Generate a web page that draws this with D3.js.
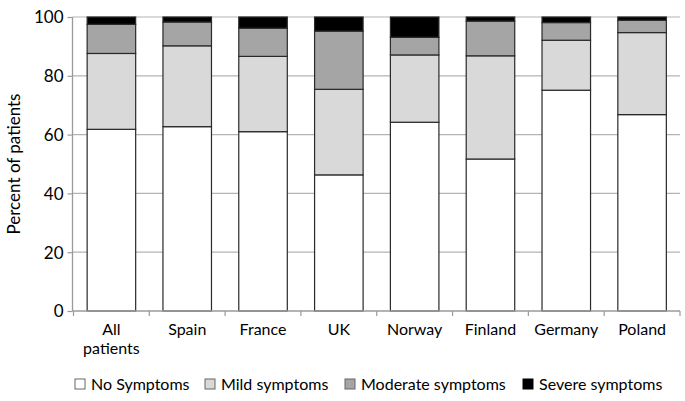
<!DOCTYPE html>
<html><head><meta charset="utf-8">
<script src="https://cdn.jsdelivr.net/npm/d3@7"></script>
<style>body{margin:0;background:#fff}svg{display:block}text{font-family:Lato,"Open Sans",sans-serif;fill:#000}</style>
</head><body><svg id="c" width="685" height="401"></svg>
<script>
const categories = ["All patients","Spain","France","UK","Norway","Finland","Germany","Poland"];
const seriesNames = ["No Symptoms","Mild symptoms","Moderate symptoms","Severe symptoms"];
const noSymptoms = [61.8, 62.7, 61.0, 46.3, 64.2, 51.7, 75.1, 66.8];
const mild       = [25.8, 27.5, 25.6, 29.1, 22.9, 35.1, 17.0, 27.9];
const moderate   = [9.9, 8.1, 9.6, 19.8, 6.0, 11.8, 6.0, 4.2];
const severe     = [2.5, 1.7, 3.8, 4.8, 6.9, 1.4, 1.9, 1.1];
const yTicks = [0,20,40,60,80,100];
const colors = ["#ffffff","#d9d9d9","#a5a5a5","#000000"];

const X0 = 72.5, X1 = 680;
const svg = d3.select("#c");
const x = d3.scaleBand().domain(categories).range([X0+1,X1]).paddingInner(0.36).paddingOuter(0.18);
const y = d3.scaleLinear().domain([0,100]).range([311,17]);

// gridlines
svg.append("g").selectAll("line").data(yTicks.filter(d=>d>0)).join("line")
  .attr("x1",X0).attr("x2",X1).attr("y1",d=>y(d)).attr("y2",d=>y(d))
  .attr("stroke","#b3b3b3").attr("stroke-width",1.2);

const table = categories.map((c,i)=>({cat:c, v:[noSymptoms[i],mild[i],moderate[i],severe[i]]}));
const keys = [0,1,2,3];
const stack = d3.stack().keys(keys).value((d,k)=>d.v[k]);
const layers = stack(table);

svg.append("g").selectAll("g").data(layers).join("g")
  .attr("fill",(d,i)=>colors[i])
  .selectAll("rect").data(d=>d).join("rect")
  .attr("x",d=>x(d.data.cat)).attr("width",x.bandwidth())
  .attr("y",d=>y(Math.min(100,d[1]))).attr("height",d=>y(d[0])-y(Math.min(100,d[1])))
  .attr("stroke","#2a2a2a").attr("stroke-width",1.2);

// y axis
const ya = svg.append("g").attr("transform",`translate(${X0},0)`)
  .call(d3.axisLeft(y).tickValues(yTicks).tickSize(5).tickPadding(4));
ya.select(".domain").attr("stroke","#9a9a9a").attr("stroke-width",1.3).attr("d","M0,17V311");
ya.selectAll(".tick line").attr("stroke","#9a9a9a").attr("stroke-width",1.2);
ya.selectAll(".tick text").style("font-size","17px").attr("fill","#000").attr("dy","0.35em");

// x axis
const xa = svg.append("g").attr("transform","translate(0,311)");
xa.append("line").attr("x1",X0).attr("x2",X1).attr("stroke","#9a9a9a").attr("stroke-width",1.3);
const step = x.step();
const bounds = d3.range(categories.length+1).map(i=>x.range()[0]+i*step);
xa.selectAll("line.t").data(bounds).join("line").attr("class","t")
  .attr("x1",d=>d).attr("x2",d=>d).attr("y1",0).attr("y2",5)
  .attr("stroke","#9a9a9a").attr("stroke-width",1.2);
const labelLines = {"All patients":["All","patients"]};
xa.selectAll("text").data(categories).join("text")
  .attr("text-anchor","middle").style("font-size","16px")
  .attr("transform",d=>`translate(${x(d)+x.bandwidth()/2},24)`)
  .each(function(d){
    const lines = labelLines[d]||[d];
    d3.select(this).selectAll("tspan").data(lines).join("tspan")
      .attr("x",0).attr("dy",(l,i)=>i===0?0:19).text(l=>l);
  });

// y title
svg.append("text").attr("transform","translate(20,164) rotate(-90)")
  .attr("text-anchor","middle").style("font-size","17px").text("Percent of patients");

// legend
const legX = [75,205,345,523];
const leg = svg.append("g").selectAll("g").data(seriesNames).join("g")
  .attr("transform",(d,i)=>`translate(${legX[i]},380)`);
leg.append("rect").attr("width",10).attr("height",10).attr("y",-1)
  .attr("fill",(d,i)=>colors[i]).attr("stroke",(d,i)=>i===3?"#000":"#666").attr("stroke-width",1);
leg.append("text").attr("x",16).attr("y",4).attr("dy","0.35em").style("font-size","16px").text(d=>d);
</script></body></html>
